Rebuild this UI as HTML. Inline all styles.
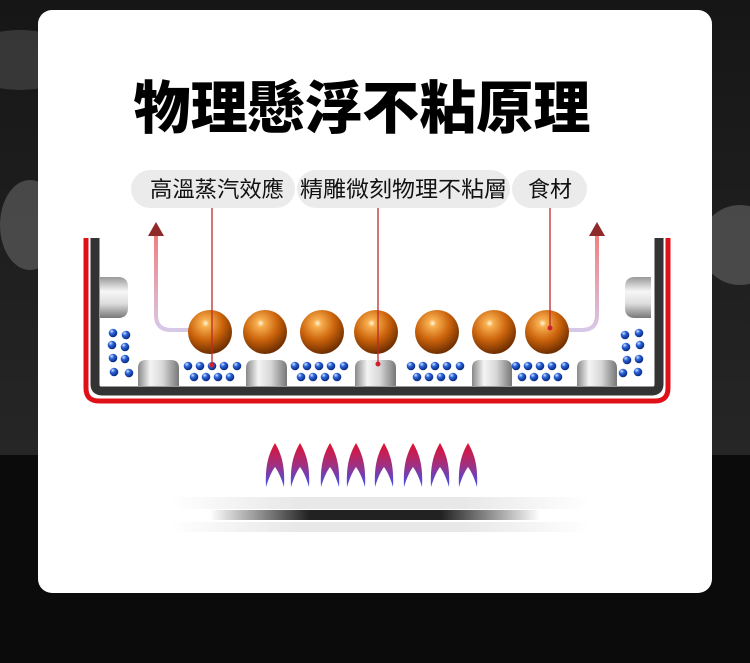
<!DOCTYPE html>
<html><head><meta charset="utf-8"><style>
html,body{margin:0;padding:0;width:750px;height:663px;overflow:hidden;background:#111;}
svg{display:block}
</style></head><body>
<svg width="750" height="663" viewBox="0 0 750 663" xmlns="http://www.w3.org/2000/svg">
<defs>
<linearGradient id="bgt" x1="0" y1="0" x2="0" y2="1"><stop offset="0" stop-color="#161616"/><stop offset="1" stop-color="#262626"/></linearGradient>
<radialGradient id="ball" cx="0.4" cy="0.3" r="0.7"><stop offset="0" stop-color="#fff6e0"/><stop offset="0.12" stop-color="#f8b050"/><stop offset="0.55" stop-color="#cc640c"/><stop offset="1" stop-color="#6e2e00"/></radialGradient>
<radialGradient id="dot" cx="0.35" cy="0.3" r="0.7"><stop offset="0" stop-color="#cfe4ff"/><stop offset="0.4" stop-color="#2a62d8"/><stop offset="1" stop-color="#0a2a80"/></radialGradient>
<linearGradient id="pil" x1="0" y1="0" x2="1" y2="0"><stop offset="0" stop-color="#888"/><stop offset="0.3" stop-color="#f4f4f4"/><stop offset="0.6" stop-color="#d8d8d8"/><stop offset="1" stop-color="#777"/></linearGradient>
<linearGradient id="blk" x1="0" y1="0" x2="0" y2="1"><stop offset="0" stop-color="#999"/><stop offset="0.35" stop-color="#f6f6f6"/><stop offset="0.65" stop-color="#ddd"/><stop offset="1" stop-color="#777"/></linearGradient>
<linearGradient id="arr" x1="0" y1="0" x2="0" y2="1"><stop offset="0" stop-color="#f08080"/><stop offset="1" stop-color="#d8c8e8"/></linearGradient>
<linearGradient id="fl" x1="0" y1="0" x2="0" y2="1"><stop offset="0" stop-color="#e01030"/><stop offset="0.5" stop-color="#a03080"/><stop offset="1" stop-color="#4050f0"/></linearGradient>
<linearGradient id="sh" x1="0" y1="0" x2="1" y2="0"><stop offset="0" stop-color="#fff"/><stop offset="0.3" stop-color="#222"/><stop offset="0.7" stop-color="#222"/><stop offset="1" stop-color="#fff"/></linearGradient>
<linearGradient id="shl" x1="0" y1="0" x2="1" y2="0"><stop offset="0" stop-color="#fff"/><stop offset="0.3" stop-color="#e8e8e8"/><stop offset="0.7" stop-color="#e8e8e8"/><stop offset="1" stop-color="#fff"/></linearGradient>
<circle id="d" r="4.3" fill="url(#dot)"/>
<path id="f" d="M0 0 C-7 12 -10 24 -9 44 C-6 34 -3 28 0 24 C3 28 6 34 9 44 C10 24 7 12 0 0Z" fill="url(#fl)"/>
</defs>
<rect width="750" height="455" fill="url(#bgt)"/>
<rect y="455" width="750" height="208" fill="#0b0b0b"/>
<ellipse cx="20" cy="60" rx="60" ry="30" fill="#555" opacity="0.5"/>
<ellipse cx="30" cy="225" rx="30" ry="45" fill="#666" opacity="0.6"/>
<ellipse cx="740" cy="245" rx="40" ry="40" fill="#666" opacity="0.6"/>
<rect x="38" y="10" width="674" height="583" rx="14" fill="#fff"/>

<text x="362" y="128" text-anchor="middle" font-family="'Liberation Sans','Noto Sans CJK TC',sans-serif" font-size="57" font-weight="900" fill="#000" textLength="457" lengthAdjust="spacingAndGlyphs">物理懸浮不粘原理</text>

<rect x="131" y="170" width="164" height="38" rx="19" fill="#ebebeb"/>
<rect x="297" y="170" width="213" height="38" rx="19" fill="#ebebeb"/>
<rect x="512" y="170" width="75" height="38" rx="19" fill="#ebebeb"/>
<g font-family="'Liberation Sans','Noto Sans CJK TC',sans-serif" font-size="22" fill="#111">
<text x="150" y="197" textLength="134" lengthAdjust="spacingAndGlyphs">高溫蒸汽效應</text>
<text x="300" y="197" textLength="207" lengthAdjust="spacingAndGlyphs">精雕微刻物理不粘層</text>
<text x="528" y="197" textLength="44" lengthAdjust="spacingAndGlyphs">食材</text>
</g>

<path d="M86 238 V388 Q86 401 99 401 H655 Q668 401 668 388 V238" fill="none" stroke="#e01018" stroke-width="5"/>
<path d="M95 238 V384 Q95 391 102 391 H652 Q659 391 659 384 V238" fill="none" stroke="#333" stroke-width="9"/>

<path d="M156 236 V315 Q156 330 171 330 H190" fill="none" stroke="url(#arr)" stroke-width="4"/>
<path d="M148 236 L156 222 L164 236Z" fill="#8e2a2a"/>
<path d="M597 236 V315 Q597 330 582 330 H565" fill="none" stroke="url(#arr)" stroke-width="4"/>
<path d="M589 236 L597 222 L605 236Z" fill="#8e2a2a"/>

<path d="M100 277 H118 Q128 277 128 287 V308 Q128 318 118 318 H100Z" fill="url(#blk)"/>
<path d="M651 277 H635 Q625 277 625 287 V308 Q625 318 635 318 H651Z" fill="url(#blk)"/>

<g fill="url(#pil)">
<path d="M138 386 V368 Q138 360 146 360 H171 Q179 360 179 368 V386Z"/>
<path d="M246 386 V368 Q246 360 254 360 H279 Q287 360 287 368 V386Z"/>
<path d="M355 386 V368 Q355 360 363 360 H388 Q396 360 396 368 V386Z"/>
<path d="M472 386 V368 Q472 360 480 360 H504 Q512 360 512 368 V386Z"/>
<path d="M577 386 V368 Q577 360 585 360 H609 Q617 360 617 368 V386Z"/>
</g>

<g fill="url(#ball)">
<circle cx="210" cy="332" r="22"/><circle cx="265" cy="332" r="22"/><circle cx="322" cy="332" r="22"/>
<circle cx="376" cy="332" r="22"/><circle cx="437" cy="332" r="22"/><circle cx="494" cy="332" r="22"/><circle cx="547" cy="332" r="22"/>
</g>

<g>
<use href="#d" x="113" y="333"/><use href="#d" x="126" y="335"/><use href="#d" x="112" y="345"/><use href="#d" x="125" y="347"/>
<use href="#d" x="113" y="358"/><use href="#d" x="125" y="359"/><use href="#d" x="114" y="372"/><use href="#d" x="129" y="373"/>
<use href="#d" x="625" y="335"/><use href="#d" x="639" y="333"/><use href="#d" x="626" y="347"/><use href="#d" x="640" y="345"/>
<use href="#d" x="627" y="360"/><use href="#d" x="639" y="359"/><use href="#d" x="623" y="373"/><use href="#d" x="638" y="372"/>
</g>
<g id="cl">
<use href="#d" x="188" y="366"/><use href="#d" x="200" y="366"/><use href="#d" x="212" y="366"/><use href="#d" x="224" y="366"/><use href="#d" x="237" y="366"/>
<use href="#d" x="194" y="377"/><use href="#d" x="206" y="377"/><use href="#d" x="218" y="377"/><use href="#d" x="230" y="377"/>
</g>
<use href="#cl" x="107"/><use href="#cl" x="223"/><use href="#cl" x="328"/>

<g stroke="#c0282a" stroke-width="1.3">
<line x1="212" y1="208" x2="212" y2="365"/>
<line x1="378" y1="208" x2="378" y2="364"/>
<line x1="550" y1="208" x2="550" y2="328"/>
</g>
<circle cx="212" cy="365" r="2.5" fill="#d02030"/><circle cx="378" cy="364" r="2.5" fill="#d02030"/><circle cx="550" cy="328" r="2.5" fill="#d02030"/>

<use href="#f" x="275" y="443"/><use href="#f" x="300" y="443"/><use href="#f" x="330" y="443"/><use href="#f" x="356" y="443"/>
<use href="#f" x="384" y="443"/><use href="#f" x="413" y="443"/><use href="#f" x="440" y="443"/><use href="#f" x="468" y="443"/>

<rect x="170" y="497" width="420" height="12" fill="url(#shl)"/>
<rect x="210" y="510" width="330" height="10" fill="url(#sh)"/>
<rect x="170" y="522" width="420" height="10" fill="url(#shl)"/>
</svg>
</body></html>
